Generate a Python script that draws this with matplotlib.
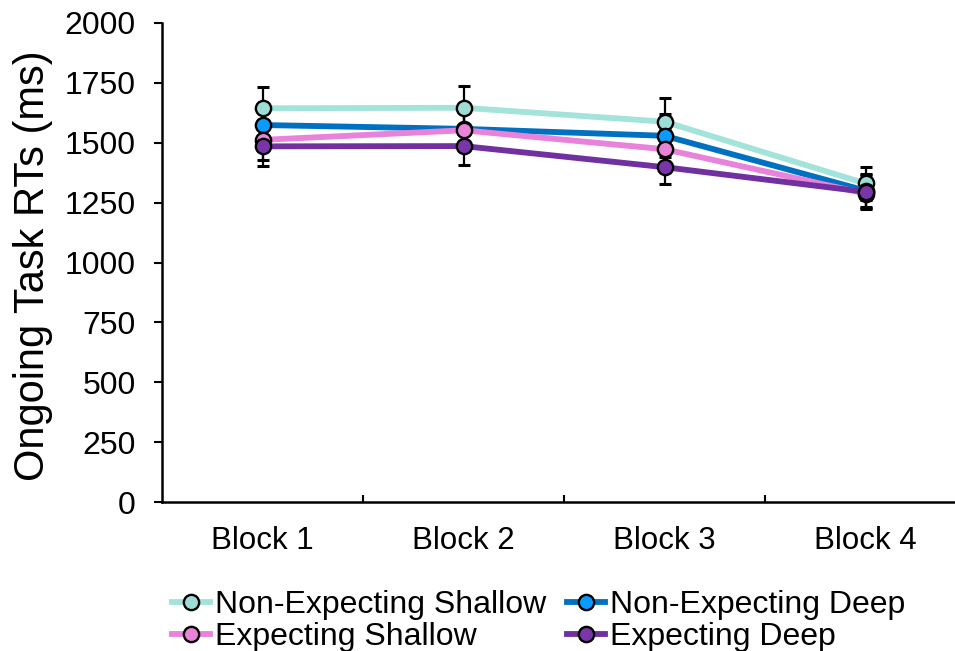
import numpy as np
import matplotlib
matplotlib.use("Agg")
import matplotlib.pyplot as plt

plt.rcParams['font.family'] = ['Liberation Sans', 'DejaVu Sans']

blocks = ["Block 1", "Block 2", "Block 3", "Block 4"]

# mean ongoing-task RTs (ms) per block
non_exp_shallow = [1644, 1646, 1588, 1330]
non_exp_deep = [1574, 1558, 1529, 1300]
exp_shallow = [1512, 1552, 1473, 1288]
exp_deep = [1485, 1486, 1398, 1295]

# standard errors
se_non_exp_shallow = [88, 92, 98, 70]
se_non_exp_deep = [85, 88, 90, 68]
se_exp_shallow = [85, 85, 80, 60]
se_exp_deep = [84, 80, 72, 70]

series = [
    ("Non-Expecting Shallow", non_exp_shallow, se_non_exp_shallow, "#A3E3D9", "#9EDDD3"),
    ("Non-Expecting Deep", non_exp_deep, se_non_exp_deep, "#0070C0", "#0A9BFF"),
    ("Expecting Shallow", exp_shallow, se_exp_shallow, "#E882DA", "#E883D8"),
    ("Expecting Deep", exp_deep, se_exp_deep, "#7030A0", "#7A36A8"),
]

fig = plt.figure(figsize=(9.55, 6.51), dpi=100)
ax = fig.add_axes([162 / 955, 149 / 651, 804 / 955, 479 / 651])

x = np.arange(len(blocks))
handles = {}
for name, vals, se, lc, fc in series:
    ax.errorbar(x, vals, yerr=se, fmt='none', ecolor='black', elinewidth=1.6,
                capsize=4, capthick=2.2, zorder=1)
    h, = ax.plot(x, vals, '-o', color=lc, lw=4.2, markersize=11,
                 markerfacecolor=fc, markeredgecolor='black', markeredgewidth=1.7,
                 label=name, zorder=2)
    handles[name] = h

ax.set_xlim(-0.5, 3.5)
ax.set_ylim(0, 2000)
ax.set_yticks(np.arange(0, 2001, 250))
ax.tick_params(axis='y', direction='out', length=6, width=1.5, pad=13, labelsize=23)

# category boundaries as small inward ticks, names on minor ticks
ax.set_xticks([0.5, 1.5, 2.5])
ax.set_xticklabels([])
ax.tick_params(axis='x', which='major', direction='in', length=5, width=1.5)
ax.set_xticks(x, blocks, minor=True)
ax.tick_params(axis='x', which='minor', length=0, pad=17, labelsize=22.5)

for s in ['top', 'right']:
    ax.spines[s].set_visible(False)
for s in ['left', 'bottom']:
    ax.spines[s].set_linewidth(1.8)

fig.text(33 / 955, 1 - 266 / 651, "Ongoing Task RTs (ms)", rotation=90,
         ha='center', va='center', fontsize=30)

order = ["Non-Expecting Shallow", "Expecting Shallow", "Non-Expecting Deep", "Expecting Deep"]
leg = fig.legend([handles[n] for n in order], order, ncol=2, loc='upper left',
                 bbox_to_anchor=(172 / 955, 1 - 590 / 651), frameon=False,
                 fontsize=23, handlelength=1.2, handletextpad=0.15,
                 columnspacing=0.65, labelspacing=0.06, borderpad=0, borderaxespad=0)

fig.savefig("out.png", dpi=100)
